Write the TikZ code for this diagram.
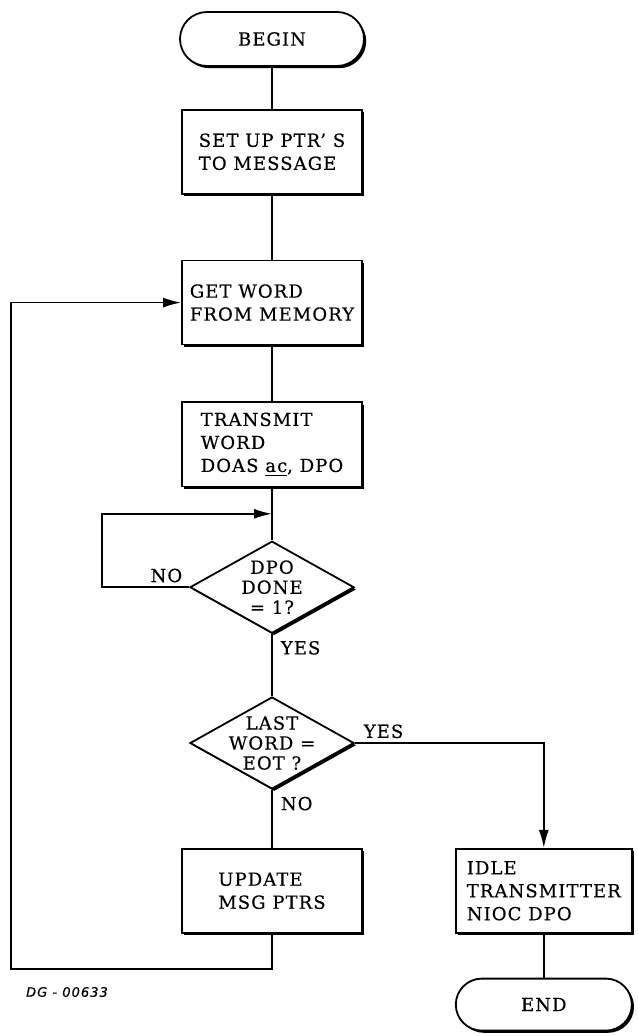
\documentclass[tikz,border=0pt]{standalone}
\usepackage{fontspec}
\setmainfont{DejaVu Serif}[LetterSpace=6,FakeBold=0.4]
\newfontfamily\tagfont{DejaVu Sans}[LetterSpace=8,FakeBold=0.4]
\usepackage{tikz}
\usetikzlibrary{positioning,arrows.meta,shapes.geometric,shadows,calc}

\begin{document}
\begin{tikzpicture}[
  x=0.5pt,y=-0.5pt,
  line width=0.9pt,
  node distance=28pt,
  txt/.style={font=\fontsize{9}{11.5}\selectfont},
  boxshadow/.style={fill=white,drop shadow={shadow xshift=1.1pt,shadow yshift=-1.1pt,fill=black,opacity=1}},
  box/.style={draw,boxshadow,txt,align=left,minimum width=90pt,minimum height=42pt,inner sep=3pt},
  terminal/.style={draw,boxshadow,txt,rounded corners=13.5pt,minimum width=92pt,minimum height=27pt},
  decision/.style={draw,boxshadow,diamond,aspect=1.8,align=center,inner sep=-5pt,minimum width=82pt,minimum height=46pt,font=\fontsize{9}{10}\selectfont},
  lab/.style={txt,inner sep=2pt},
  arr/.style={-{Latex[length=9pt,width=5pt]}}
]
\useasboundingbox (0,0) rectangle (637,1036);
\node[terminal] (begin) at (272,39) {BEGIN};
\node[box,below=21pt of begin] (setup) {SET UP PTR' S\\TO MESSAGE};
\node[box,below=32.5pt of setup] (getw) {GET WORD\\FROM MEMORY};
\node[box,below=28pt of getw] (xmit) {TRANSMIT\\WORD\\DOAS \underline{ac}, DPO};
\node[decision,below=26.5pt of xmit] (done) {DPO\\DONE\\= 1?};
\node[decision,below=31pt of done] (last) {LAST\\WORD =\\EOT ?};
\node[box,below=29pt of last] (upd) {UPDATE\\MSG PTRS};
\node[box,minimum width=88pt,right=46pt of upd] (idle) {IDLE\\TRANSMITTER\\NIOC DPO};
\node[terminal,minimum width=88pt,minimum height=26pt,rounded corners=13pt,below=22pt of idle] (end) {END};
\node[font=\tagfont\itshape\fontsize{6.5}{8}\selectfont] (tag) at (67,992) {DG - 00633};
% labels on the decisions
\node[lab,above left=0pt and 1pt of done.west] (no1) {NO};
\node[lab,below right=1pt and 2pt of done.south] (yes1) {YES};
\node[lab,above right=0pt and 2pt of last.east] (yes2) {YES};
\node[lab,below right=1pt and 2pt of last.south] (no2) {NO};
% connectors
\coordinate (join) at ($(xmit.south)!0.5!(done.north)$);
\draw (begin) -- (setup);
\draw (setup) -- (getw);
\draw (getw) -- (xmit);
\draw (xmit) -- (done);
\draw[arr] (done.west) -- ++(-43.5pt,0) |- (join);
\draw (done) -- (last);
\draw[arr] (last.east) -| (idle.north);
\draw (last) -- (upd);
\draw[arr] (upd.south) -- ++(0,-17.5pt) -| ([xshift=-85pt]getw.west) -- (getw.west);
\draw (idle) -- (end);
\end{tikzpicture}
\end{document}
